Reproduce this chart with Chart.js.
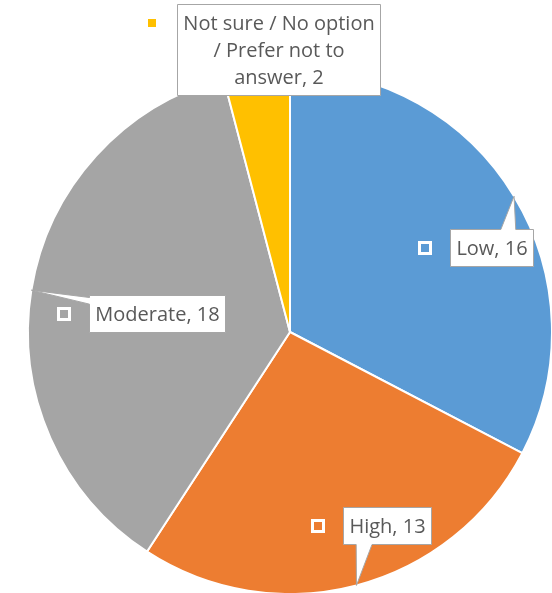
<!DOCTYPE html>
<html>
<head>
<meta charset="utf-8">
<title>Responses</title>
<script src="https://cdn.jsdelivr.net/npm/chart.js@4.4.0/dist/chart.umd.min.js"></script>
<style>
  body { margin: 0; background: #fff; }
  canvas { display: block; }
</style>
</head>
<body>
<canvas id="responseChart" width="552" height="593"></canvas>
<script>
// data (clockwise from 12 o'clock)
const categories = ['Low', 'High', 'Moderate', 'Not sure / No option / Prefer not to answer'];
const counts = [16, 13, 18, 2];
const sliceColors = ['#5B9BD5', '#ED7D31', '#A5A5A5', '#FFC000'];

// where each callout box sits, as offset of its centre from the pie centre
const boxOffsets = [[201, -85], [97, 193], [-133, -19], [-12, -283]];

const LABEL_FONT = '20px "Open Sans"';
const LINE_H = 27;
const PAD_X = 6;
const PAD_Y = 5;
const WRAP_W = 198;

function wrapText(ctx, text, maxW) {
  const words = text.split(' ');
  const lines = [];
  let cur = '';
  words.forEach(w => {
    const test = cur ? cur + ' ' + w : w;
    if (cur && ctx.measureText(test).width > maxW) {
      lines.push(cur);
      cur = w;
    } else {
      cur = test;
    }
  });
  if (cur) lines.push(cur);
  return lines;
}

const calloutPlugin = {
  id: 'callouts',
  afterDatasetsDraw(chart) {
    const ctx = chart.ctx;
    const meta = chart.getDatasetMeta(0);
    ctx.save();
    ctx.font = LABEL_FONT;

    meta.data.forEach((arc, i) => {
      const p = arc.getProps(['x', 'y', 'startAngle', 'endAngle', 'outerRadius'], true);
      const mid = (p.startAngle + p.endAngle) / 2;
      const tip = { x: p.x + Math.cos(mid) * p.outerRadius, y: p.y + Math.sin(mid) * p.outerRadius };

      const text = categories[i] + ', ' + counts[i];
      const lines = wrapText(ctx, text, WRAP_W);
      const textW = Math.max(...lines.map(l => ctx.measureText(l).width));
      const w = Math.round(textW + PAD_X * 2);
      const h = lines.length * LINE_H + PAD_Y * 2;
      const cx = p.x + boxOffsets[i][0];
      const cy = p.y + boxOffsets[i][1];
      const left = Math.round(cx - w / 2) + 0.5;
      const top = Math.round(cy - h / 2) + 0.5;
      const right = left + w;
      const bottom = top + h;

      // which side the wedge comes out of
      const dx = tip.x < left ? left - tip.x : (tip.x > right ? tip.x - right : 0);
      const dy = tip.y < top ? top - tip.y : (tip.y > bottom ? tip.y - bottom : 0);

      ctx.beginPath();
      if (dy >= dx && dy > 0) {
        const half = w * 0.09;
        let bx = tip.x + (cx - tip.x) * 0.25;
        bx = Math.min(Math.max(bx, left + half + 2), right - half - 2);
        if (tip.y < top) {
          ctx.moveTo(left, top);
          ctx.lineTo(bx - half, top);
          ctx.lineTo(tip.x, tip.y);
          ctx.lineTo(bx + half, top);
          ctx.lineTo(right, top);
          ctx.lineTo(right, bottom);
          ctx.lineTo(left, bottom);
        } else {
          ctx.moveTo(left, top);
          ctx.lineTo(right, top);
          ctx.lineTo(right, bottom);
          ctx.lineTo(bx + half, bottom);
          ctx.lineTo(tip.x, tip.y);
          ctx.lineTo(bx - half, bottom);
          ctx.lineTo(left, bottom);
        }
      } else if (dx > 0) {
        const half = h * 0.09;
        let by = tip.y + (cy - tip.y) * 0.25;
        by = Math.min(Math.max(by, top + half + 2), bottom - half - 2);
        if (tip.x < left) {
          ctx.moveTo(left, top);
          ctx.lineTo(right, top);
          ctx.lineTo(right, bottom);
          ctx.lineTo(left, bottom);
          ctx.lineTo(left, by + half);
          ctx.lineTo(tip.x, tip.y);
          ctx.lineTo(left, by - half);
        } else {
          ctx.moveTo(left, top);
          ctx.lineTo(right, top);
          ctx.lineTo(right, by - half);
          ctx.lineTo(tip.x, tip.y);
          ctx.lineTo(right, by + half);
          ctx.lineTo(right, bottom);
          ctx.lineTo(left, bottom);
        }
      } else {
        ctx.rect(left, top, w, h);
      }
      ctx.closePath();
      ctx.fillStyle = '#FFFFFF';
      ctx.fill();
      ctx.strokeStyle = '#A6A6A6';
      ctx.lineWidth = 1;
      ctx.stroke();

      // text
      ctx.fillStyle = '#595959';
      ctx.textAlign = 'center';
      ctx.textBaseline = 'middle';
      lines.forEach((l, k) => {
        ctx.fillText(l, left + w / 2, top + PAD_Y + LINE_H * k + LINE_H / 2 + 1);
      });

      // legend key to the left of the box
      const mx = Math.round(left - 26);
      const my = Math.round(top + PAD_Y + LINE_H / 2);
      ctx.fillStyle = '#FFFFFF';
      ctx.fillRect(mx - 7, my - 7, 14, 14);
      ctx.fillStyle = sliceColors[i];
      ctx.fillRect(mx - 4, my - 4, 8, 8);
    });
    ctx.restore();
  }
};

const ctx = document.getElementById('responseChart').getContext('2d');
new Chart(ctx, {
  type: 'pie',
  data: {
    labels: categories,
    datasets: [{
      data: counts,
      backgroundColor: sliceColors,
      borderColor: '#FFFFFF',
      borderWidth: 2,
      radius: 262
    }]
  },
  options: {
    responsive: false,
    animation: false,
    layout: { padding: { left: 28, right: 0, top: 71, bottom: 0 } },
    plugins: {
      legend: { display: false },
      tooltip: { enabled: false }
    }
  },
  plugins: [calloutPlugin]
});
</script>
</body>
</html>
